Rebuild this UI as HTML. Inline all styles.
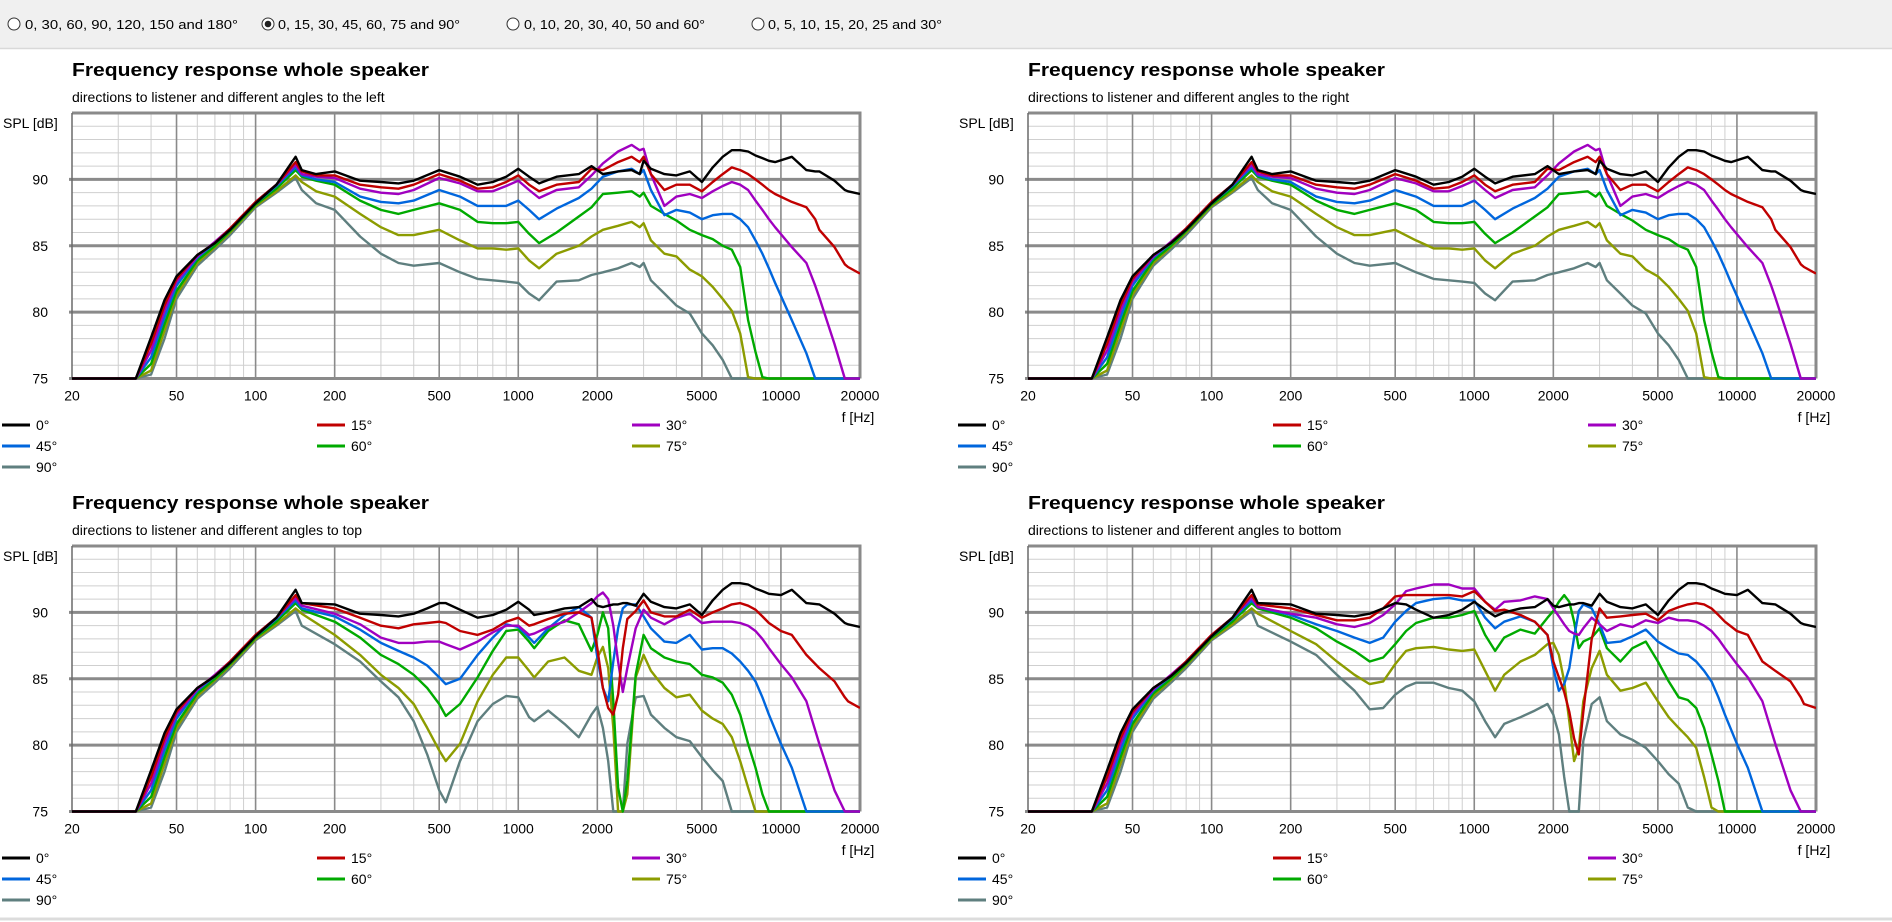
<!DOCTYPE html>
<html><head><meta charset="utf-8">
<style>
html,body{margin:0;padding:0;background:#fff;width:1892px;height:922px;overflow:hidden}
svg{display:block;font-family:"Liberation Sans",sans-serif}
</style></head>
<body>
<svg id="root" width="1892" height="922" viewBox="0 0 1892 922" xmlns="http://www.w3.org/2000/svg">
  <rect x="0" y="0" width="1892" height="48" fill="#f0f0f0"/>
  <line x1="0" y1="48.5" x2="1892" y2="48.5" stroke="#d9d9d9" stroke-width="1.5"/>
  <g>
    <circle cx="14" cy="24" r="6" fill="#fff" stroke="#333" stroke-width="1"/>
    <text x="25" y="29" font-size="13" fill="#000" textLength="213" lengthAdjust="spacingAndGlyphs">0, 30, 60, 90, 120, 150 and 180°</text>
  </g>
  <g>
    <circle cx="268" cy="24" r="6" fill="#fff" stroke="#333" stroke-width="1"/>
    <circle cx="268" cy="24" r="3.3" fill="#222"/>
    <text x="278" y="29" font-size="13" fill="#000" textLength="182" lengthAdjust="spacingAndGlyphs">0, 15, 30, 45, 60, 75 and 90°</text>
  </g>
  <g>
    <circle cx="513" cy="24" r="6" fill="#fff" stroke="#333" stroke-width="1"/>
    <text x="524" y="29" font-size="13" fill="#000" textLength="181" lengthAdjust="spacingAndGlyphs">0, 10, 20, 30, 40, 50 and 60°</text>
  </g>
  <g>
    <circle cx="758" cy="24" r="6" fill="#fff" stroke="#333" stroke-width="1"/>
    <text x="768" y="29" font-size="13" fill="#000" textLength="174" lengthAdjust="spacingAndGlyphs">0, 5, 10, 15, 20, 25 and 30°</text>
  </g>
  <line x1="0" y1="919" x2="1892" y2="919" stroke="#dcdcdc" stroke-width="3"/>
</svg>
<script>
const LOW_F = [20,35,40,45,50,60,70,80,100,120,142];
const LOW_0 = [75,75,78.1,80.9,82.7,84.3,85.2,86.2,88.2,89.6,91.7];
const LOW_15 = [75,75,77.6,80.5,82.5,84.3,85.2,86.3,88.3,89.6,91.3];
const LOW_30 = [75,75,77.1,80.1,82.3,84.2,85.3,86.3,88.3,89.6,91.1];
const LOW_45 = [75,75,76.6,79.6,82.0,84.1,85.2,86.2,88.2,89.5,90.9];
const LOW_60 = [75,75,76.1,79.1,81.6,83.9,85.0,86.1,88.1,89.3,90.7];
const LOW_75 = [75,75,75.6,78.6,81.3,83.7,84.9,86.0,88.0,89.1,90.3];
const LOW_90 = [75,75,75.3,78.0,81.0,83.5,84.7,85.8,87.9,89.0,90.1];

const ANGLE_LABELS = ["0°","15°","30°","45°","60°","75°","90°"];
const X_TICKS = [20,50,100,200,500,1000,2000,5000,10000,20000];
const Y_TICKS = [75,80,85,90];

// left / right (horizontal) chart
const LR_F = [150,170,200,250,300,350,400,500,600,700,800,900,1000,1100,1200,1400,1700,1900,2100,2400,2700,2900,3000,3200,3600,4000,4500,5000,5500,6000,6500,7000,7500,8000,8500,9000,9500,11000,12500,13500,14000,16000,17500,18000,20000];
const LR_0 = [90.7,90.4,90.6,89.9,89.8,89.7,89.9,90.7,90.2,89.6,89.8,90.2,90.8,90.2,89.7,90.2,90.4,91.0,90.4,90.6,90.7,90.4,91.4,90.8,90.4,90.3,90.6,89.8,90.9,91.7,92.2,92.2,92.1,91.8,91.6,91.4,91.3,91.7,90.7,90.6,90.6,89.9,89.2,89.1,88.9];
const LR_15 = [90.6,90.3,90.3,89.6,89.4,89.3,89.6,90.4,89.9,89.3,89.4,89.8,90.3,89.6,89.1,89.6,89.8,90.8,90.7,91.3,91.7,91.3,91.7,90.4,89.2,89.6,89.6,89.1,89.8,90.4,90.9,90.7,90.4,90.0,89.6,89.2,88.9,88.3,87.9,87.0,86.2,84.9,83.6,83.4,82.9];
const LR_30 = [90.4,90.2,90.1,89.3,89.0,88.9,89.2,90.1,89.7,89.1,89.1,89.5,89.9,89.2,88.6,89.2,89.4,90.3,91.2,92.1,92.6,92.2,92.3,90.4,88.0,88.7,88.9,88.6,89.1,89.5,89.8,89.6,89.2,88.4,87.7,87.0,86.4,84.9,83.7,82.0,81.1,77.6,75,75,75];
const LR_45 = [90.3,90.0,89.8,88.7,88.3,88.2,88.4,89.2,88.7,88.0,88.0,88.0,88.4,87.7,87.0,87.8,88.6,89.3,90.2,90.6,90.8,90.4,90.7,89.2,87.3,87.7,87.5,87.0,87.3,87.4,87.4,87.0,86.4,85.4,84.4,83.3,82.2,79.4,76.9,75,75,75,75,75,75];
const LR_60 = [90.2,89.9,89.6,88.4,87.7,87.4,87.7,88.2,87.7,86.8,86.7,86.7,86.8,85.9,85.2,86.0,87.2,87.9,88.9,89.0,89.1,88.7,89.0,88.0,87.4,86.9,86.2,85.8,85.5,85.0,84.7,83.4,79.4,77.0,75.1,75,75,75,75,75,75,75,75,75,75];
const LR_75 = [89.8,89.1,88.7,87.4,86.4,85.8,85.8,86.2,85.4,84.8,84.8,84.7,84.8,83.9,83.3,84.4,85.0,85.7,86.2,86.5,86.8,86.4,86.7,85.4,84.4,84.2,83.2,82.7,81.9,81.0,80.1,78.4,75.1,75,75,75,75,75,75,75,75,75,75,75,75];
const LR_90 = [89.2,88.2,87.7,85.7,84.4,83.7,83.5,83.7,83.0,82.5,82.4,82.3,82.2,81.4,80.9,82.3,82.4,82.8,83.0,83.3,83.7,83.4,83.7,82.4,81.4,80.5,79.9,78.4,77.5,76.4,75,75,75,75,75,75,75,75,75,75,75,75,75,75,75];

// top chart
const TOP_F = [150,200,250,300,350,400,450,500,530,600,700,800,900,1000,1100,1150,1300,1500,1700,1900,2000,2100,2200,2300,2400,2500,2600,2800,3000,3200,3600,4000,4500,5000,5500,6000,6500,7000,7500,8000,8500,9000,10000,11000,12500,14000,16000,17500,18000,20000];
const TOP_0 = [90.7,90.6,89.9,89.8,89.7,89.9,90.3,90.7,90.7,90.2,89.6,89.8,90.2,90.8,90.2,89.8,90.0,90.3,90.4,91.0,90.5,90.4,90.5,90.6,90.6,90.7,90.7,90.5,91.4,90.8,90.4,90.3,90.6,89.8,90.9,91.7,92.2,92.2,92.1,91.8,91.6,91.4,91.3,91.7,90.7,90.6,89.9,89.2,89.1,88.9];
const TOP_15 = [90.7,90.3,89.6,89.0,88.8,89.1,89.2,89.3,89.2,88.6,88.3,88.7,89.3,89.6,89.0,89.1,89.5,89.9,90.0,89.6,87.3,84.3,82.8,82.3,83.8,87.3,89.5,90.1,90.9,90.0,89.7,89.7,90.2,89.6,90.0,90.3,90.6,90.7,90.5,90.2,89.7,89.2,88.6,88.3,86.8,85.8,84.8,83.6,83.3,82.8];
const TOP_30 = [90.5,89.9,89.1,88.1,87.7,87.7,87.8,87.8,87.6,87.2,87.8,88.5,89.0,89.0,88.3,88.4,88.9,89.3,90.0,90.7,91.2,91.5,91.0,89.0,86.3,84.0,85.8,88.8,90.2,89.6,89.1,89.6,89.9,89.2,89.3,89.3,89.3,89.2,89.0,88.6,88.0,87.3,86.1,85.1,83.3,80.1,76.6,75,75,75];
const TOP_45 = [90.3,89.7,88.7,87.7,87.1,86.6,86.0,85.1,84.6,85.0,86.8,88.1,89.1,88.9,88.1,87.7,88.8,89.8,90.4,89.6,86.6,84.3,83.3,86.3,88.8,90.3,90.6,90.6,89.7,88.8,87.8,87.7,88.3,87.2,87.3,87.3,86.9,86.3,85.6,84.8,83.6,82.3,80.1,78.3,75,75,75,75,75,75];
const TOP_60 = [90.2,89.3,88.1,86.8,86.1,85.3,84.3,83.1,82.2,83.1,85.1,87.1,88.6,88.7,87.8,87.3,88.6,89.4,89.1,87.1,88.3,90.0,88.8,83.3,76.8,75,77.3,85.3,88.3,87.3,86.6,86.3,86.1,85.3,85.1,84.7,83.8,82.3,80.1,78.3,76.3,75,75,75,75,75,75,75,75,75];
const TOP_75 = [89.9,88.3,86.8,85.3,84.3,83.1,81.3,79.6,78.8,80.1,83.3,85.3,86.6,86.6,85.6,85.1,86.3,86.6,85.6,85.3,86.6,87.4,85.8,81.3,75,75,76.3,85.1,86.8,85.6,84.3,83.6,83.8,82.6,82.0,81.6,80.6,78.8,76.8,75,75,75,75,75,75,75,75,75,75,75];
const TOP_90 = [89.0,87.6,86.3,84.8,83.6,81.8,79.3,76.6,75.7,78.8,81.8,83.1,83.7,83.6,82.1,81.8,82.6,81.6,80.6,82.3,82.9,81.3,78.8,75,75,75,80.1,83.6,83.7,82.3,81.3,80.6,80.3,79.1,78.1,77.3,75,75,75,75,75,75,75,75,75,75,75,75,75,75];

// bottom chart
const BOT_F = [150,200,250,300,350,400,450,500,550,600,700,800,900,1000,1100,1200,1300,1500,1700,1900,2000,2100,2200,2300,2400,2500,2600,2800,3000,3200,3600,4000,4500,5000,5500,6000,6500,7000,7500,8000,8500,9000,10000,11000,12500,14000,16000,17500,18000,20000];
const BOT_0 = [90.7,90.6,89.9,89.8,89.7,89.9,90.3,90.7,90.6,90.2,89.6,89.8,90.2,90.8,90.2,89.7,90.0,90.3,90.4,91.0,90.5,90.4,90.5,90.6,90.6,90.7,90.7,90.5,91.4,90.8,90.4,90.3,90.6,89.8,90.9,91.7,92.2,92.2,92.1,91.8,91.6,91.4,91.3,91.7,90.7,90.6,89.9,89.2,89.1,88.9];
const BOT_15 = [90.6,90.3,89.8,89.4,89.4,89.6,90.3,91.2,91.3,91.3,91.3,91.3,91.2,91.6,90.8,90.1,90.2,89.8,89.3,88.3,86.3,85.1,84.0,82.5,80.5,79.3,82.5,88.0,90.3,89.6,89.7,89.8,89.9,89.4,90.1,90.4,90.6,90.7,90.6,90.3,89.8,89.3,88.6,88.3,86.3,85.6,84.8,83.6,83.1,82.8];
const BOT_30 = [90.4,89.9,89.6,89.1,88.9,89.2,89.8,90.6,91.6,91.8,92.1,92.1,91.8,91.8,90.8,90.2,90.8,90.9,91.2,91.0,90.3,89.7,89.1,88.6,88.4,88.3,88.8,89.6,89.1,88.6,89.1,88.9,89.4,89.2,89.6,89.4,89.4,89.3,89.0,88.6,88.0,87.3,86.1,85.1,83.3,80.1,76.6,75,75,75];
const BOT_45 = [90.4,89.8,89.1,88.6,88.1,87.7,88.1,89.3,90.1,90.7,91.0,91.1,90.9,90.9,89.6,88.8,89.3,89.7,89.3,88.3,85.8,84.1,84.6,85.8,88.1,90.1,90.6,90.3,89.1,87.7,87.8,88.2,88.7,87.8,87.3,86.9,86.8,86.3,85.6,84.8,83.6,82.3,80.1,78.3,75,75,75,75,75,75];
const BOT_60 = [90.3,89.6,88.8,87.8,87.1,86.3,86.6,87.6,88.6,89.2,89.6,89.6,89.8,90.1,88.3,87.1,88.1,88.7,88.4,89.6,90.1,90.8,91.3,90.8,89.3,87.3,87.8,88.1,88.8,87.3,86.3,87.3,87.8,86.3,84.8,83.6,83.4,82.8,81.3,79.3,77.3,75,75,75,75,75,75,75,75,75];
const BOT_75 = [89.9,88.6,87.6,86.3,85.3,84.6,84.8,86.1,87.1,87.3,87.4,87.2,87.1,87.2,85.6,84.1,85.3,86.3,86.8,87.6,87.7,86.8,84.8,81.8,78.8,79.8,83.3,85.8,87.1,85.3,84.1,84.3,84.7,83.3,82.1,81.3,80.6,79.8,77.6,75.3,75,75,75,75,75,75,75,75,75,75];
const BOT_90 = [89.0,87.8,86.8,85.3,84.1,82.7,82.8,83.8,84.4,84.7,84.7,84.3,84.1,83.3,81.8,80.6,81.6,82.1,82.6,83.1,82.3,80.8,77.6,75,75,75,80.3,83.1,83.6,81.8,80.8,80.4,79.8,78.8,77.8,77.1,75.3,75,75,75,75,75,75,75,75,75,75,75,75,75];

const COLORS = ["#000000","#c00000","#a000c0","#0066dd","#00aa00","#8c9c00","#5f7f7f"];
const LOWS = [LOW_0,LOW_15,LOW_30,LOW_45,LOW_60,LOW_75,LOW_90];

const NS = "http://www.w3.org/2000/svg";
const root = document.getElementById('root');
function mk(tag, attrs, parent){
  const e = document.createElementNS(NS, tag);
  for (const k in attrs) e.setAttribute(k, attrs[k]);
  parent.appendChild(e);
  return e;
}

const PL = 72, PW = 788, PT = 113, PH = 265.5;
const FMIN = 20, FMAX = 20000, DMIN = 75, DMAX = 95;

function drawChart(ox, oy, subtitle, F, seriesList, key){
  const g = mk('g', {transform: 'translate(' + ox + ',' + oy + ')'}, root);
  
  
  const xs = f => PL + PW * Math.log10(f / FMIN) / Math.log10(FMAX / FMIN);
  const ys = d => PT + PH * (DMAX - Math.max(DMIN, Math.min(DMAX, d))) / (DMAX - DMIN);

  const t = mk('text', {x: 72, y: 76, 'font-size': 18, 'font-weight': 'bold', fill: '#000', textLength: 357, lengthAdjust: 'spacingAndGlyphs'}, g);
  t.textContent = 'Frequency response whole speaker';
  
  
  const st = mk('text', {x: 72, y: 102, 'font-size': 14, fill: '#000'}, g);
  st.textContent = subtitle;
  
  

  // minor grid
  const grid = mk('g', {}, g);
  
  
  for (let d = DMIN + 1; d < DMAX; d++) {
    if (d % 5 === 0) continue;
    mk('line', {x1: PL, x2: PL + PW, y1: ys(d), y2: ys(d), stroke: '#cfcfcf', 'stroke-width': 1}, grid);
  }
  const majorX = [50,100,200,500,1000,2000,5000,10000];
  for (let dec = 10; dec <= 10000; dec *= 10) {
    for (let m = 1; m <= 9; m++) {
      const f = dec * m;
      if (f <= FMIN || f >= FMAX) continue;
      if (majorX.indexOf(f) >= 0) continue;
      mk('line', {x1: xs(f), x2: xs(f), y1: PT, y2: PT + PH, stroke: '#cfcfcf', 'stroke-width': 1}, grid);
    }
  }
  majorX.forEach(f => mk('line', {x1: xs(f), x2: xs(f), y1: PT, y2: PT + PH, stroke: '#8a8a8a', 'stroke-width': 1.6}, grid));
  [80,85,90].forEach(d => mk('line', {x1: PL - 3, x2: PL + PW, y1: ys(d), y2: ys(d), stroke: '#8a8a8a', 'stroke-width': 3}, grid));
  mk('line', {x1: PL - 3, x2: PL + PW, y1: ys(75), y2: ys(75), stroke: '#8a8a8a', 'stroke-width': 3}, grid);
  mk('line', {x1: PL, x2: PL + PW + 1.5, y1: PT, y2: PT, stroke: '#8a8a8a', 'stroke-width': 3}, grid);
  mk('line', {x1: PL + PW, x2: PL + PW, y1: PT, y2: PT + PH, stroke: '#8a8a8a', 'stroke-width': 3}, grid);
  mk('line', {x1: PL, x2: PL, y1: PT, y2: PT + PH, stroke: '#6a6a6a', 'stroke-width': 1.5}, grid);

  // axis labels
  const yl = mk('text', {x: 3, y: 128, 'font-size': 14, fill: '#000'}, g);
  yl.textContent = 'SPL [dB]';
  
  
  Y_TICKS.forEach(d => {
    const tt = mk('text', {x: 48, y: ys(d) + 5, 'font-size': 14, fill: '#000', 'text-anchor': 'end'}, g);
    tt.textContent = String(d);
    
    
  });
  X_TICKS.forEach(f => {
    const tt = mk('text', {x: xs(f), y: PT + PH + 22, 'font-size': 14, fill: '#000', 'text-anchor': 'middle'}, g);
    tt.textContent = String(f);
    
    
  });
  const xl = mk('text', {x: 858, y: 422, 'font-size': 14, fill: '#000', 'text-anchor': 'middle'}, g);
  xl.textContent = 'f [Hz]';
  
  

  // series
  const clipId = 'clip-' + key;
  const cp = mk('clipPath', {id: clipId}, g);
  mk('rect', {x: PL, y: PT - 2, width: PW, height: PH + 4}, cp);
  const sg = mk('g', {'clip-path': 'url(#' + clipId + ')'}, g);
  for (let i = seriesList.length - 1; i >= 0; i--) {
    const fs = LOW_F.concat(F);
    const vs = LOWS[i].concat(seriesList[i]);
    const pts = fs.map((f, j) => xs(f).toFixed(1) + ',' + ys(vs[j]).toFixed(1)).join(' ');
    const pl = mk('polyline', {points: pts, fill: 'none', stroke: COLORS[i], 'stroke-width': 2.4, 'stroke-linejoin': 'round'}, sg);
    
    
  }

  // legend
  const legX = [2, 317, 632];
  const legY = [425, 446, 467];
  ANGLE_LABELS.forEach((lab, i) => {
    const lx = legX[i % 3], ly = legY[Math.floor(i / 3)];
    const lg = mk('g', {}, g);
    
    
    mk('line', {x1: lx, x2: lx + 28, y1: ly, y2: ly, stroke: COLORS[i], 'stroke-width': 3}, lg);
    const lt = mk('text', {x: lx + 34, y: ly + 5, 'font-size': 14, fill: '#000'}, lg);
    lt.textContent = lab;
  });
}

drawChart(0, 0, 'directions to listener and different angles to the left', LR_F, [LR_0,LR_15,LR_30,LR_45,LR_60,LR_75,LR_90], 'left');
drawChart(956, 0, 'directions to listener and different angles to the right', LR_F, [LR_0,LR_15,LR_30,LR_45,LR_60,LR_75,LR_90], 'right');
drawChart(0, 433, 'directions to listener and different angles to top', TOP_F, [TOP_0,TOP_15,TOP_30,TOP_45,TOP_60,TOP_75,TOP_90], 'top');
drawChart(956, 433, 'directions to listener and different angles to bottom', BOT_F, [BOT_0,BOT_15,BOT_30,BOT_45,BOT_60,BOT_75,BOT_90], 'bottom');
</script>
</body></html>
